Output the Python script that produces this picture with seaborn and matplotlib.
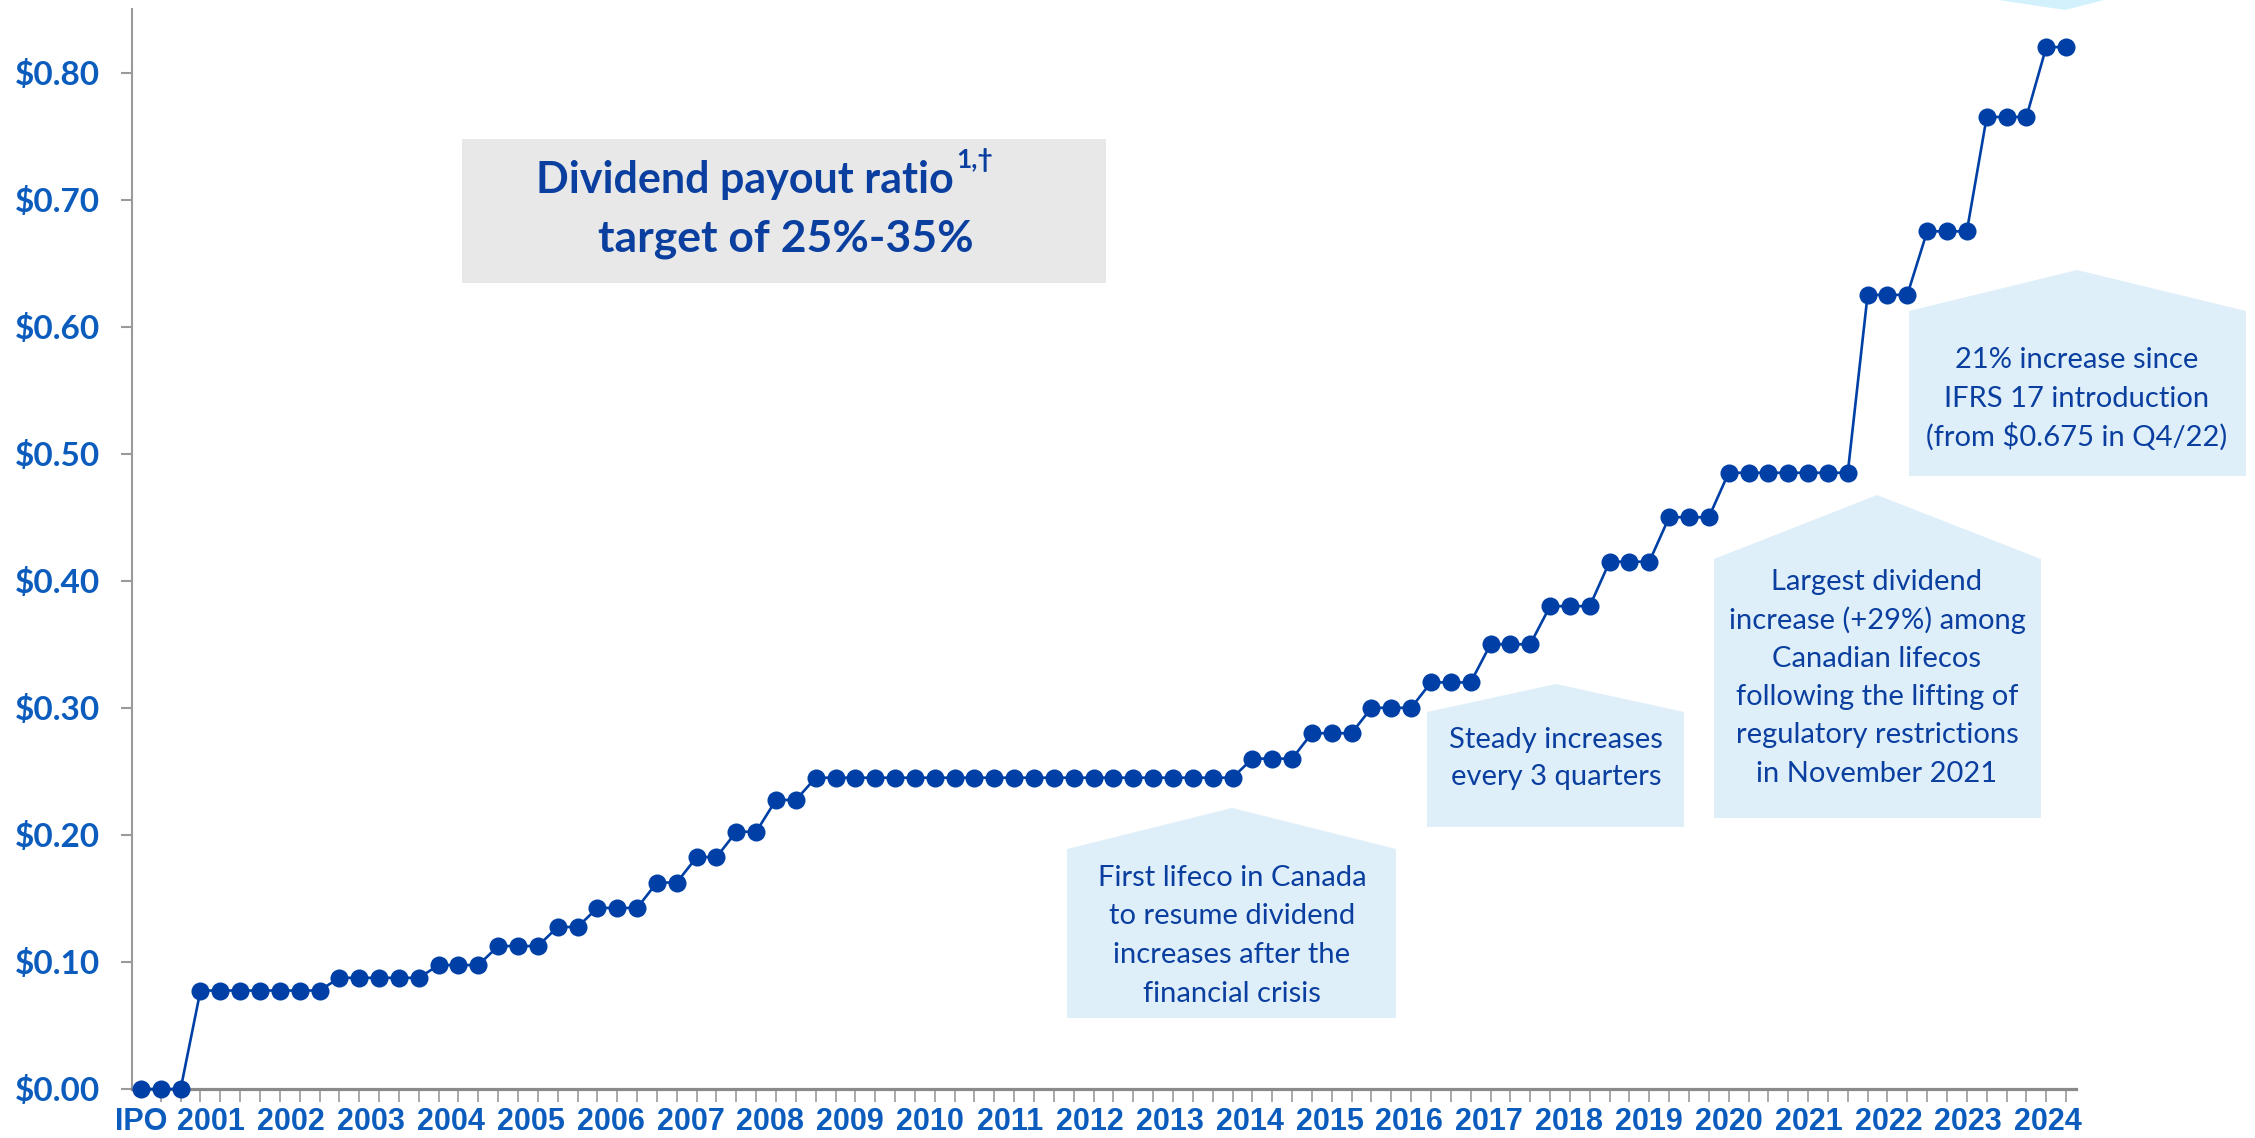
import matplotlib
matplotlib.use("Agg")
import matplotlib.pyplot as plt
import numpy as np
import pandas as pd
import seaborn as sns
from matplotlib import font_manager
from matplotlib.patches import Polygon, Rectangle

W, H = 2255, 1138

# quarterly dividend per common share, IPO to 2024
DIVIDEND = [
    0.0, 0.0, 0.0,
    0.0775, 0.0775, 0.0775, 0.0775, 0.0775, 0.0775, 0.0775,
    0.0875, 0.0875, 0.0875, 0.0875, 0.0875,
    0.0975, 0.0975, 0.0975,
    0.1125, 0.1125, 0.1125,
    0.1275, 0.1275,
    0.1425, 0.1425, 0.1425,
    0.1625, 0.1625,
    0.1825, 0.1825,
    0.2025, 0.2025,
    0.2275, 0.2275,
    0.245, 0.245, 0.245, 0.245, 0.245, 0.245, 0.245, 0.245, 0.245, 0.245, 0.245,
    0.245, 0.245, 0.245, 0.245, 0.245, 0.245, 0.245, 0.245, 0.245, 0.245, 0.245,
    0.26, 0.26, 0.26,
    0.28, 0.28, 0.28,
    0.30, 0.30, 0.30,
    0.32, 0.32, 0.32,
    0.35, 0.35, 0.35,
    0.38, 0.38, 0.38,
    0.415, 0.415, 0.415,
    0.45, 0.45, 0.45,
    0.485, 0.485, 0.485, 0.485, 0.485, 0.485, 0.485,
    0.625, 0.625, 0.625,
    0.675, 0.675, 0.675,
    0.765, 0.765, 0.765,
    0.82, 0.82,
]
YEAR_LABELS = ["IPO"] + [str(y) for y in range(2001, 2025)]
Y_TICKS = [0.0, 0.1, 0.2, 0.3, 0.4, 0.5, 0.6, 0.7, 0.8]
Y_TICK_LABELS = ["$0.00", "$0.10", "$0.20", "$0.30", "$0.40", "$0.50", "$0.60", "$0.70", "$0.80"]

BOX_LINE_1 = "Dividend payout ratio"
BOX_SUPER = "1,\u2020"
BOX_LINE_2 = "target of 25%-35%"
CALLOUT_CRISIS = ["First lifeco in Canada", "to resume dividend", "increases after the", "financial crisis"]
CALLOUT_STEADY = ["Steady increases", "every 3 quarters"]
CALLOUT_LARGEST = ["Largest dividend", "increase (+29%) among", "Canadian lifecos",
                   "following the lifting of", "regulatory restrictions", "in November 2021"]
CALLOUT_IFRS = ["21% increase since", "IFRS 17 introduction", "(from $0.675 in Q4/22)"]

DOT_BLUE = "#0040A6"
TICK_BLUE = "#0B5CBD"
TEXT_BLUE = "#0A3F9F"
CALLOUT_FILL = "#DFEFFA"
GRID_GREY = "#9a9a9a"

names = {f.name for f in font_manager.fontManager.ttflist}


def pick(*candidates):
    for c in candidates:
        if c in names:
            return c
    return "DejaVu Sans"


MAIN_FONT = pick("Lato", "Open Sans", "Noto Sans")
NARROW_FONT = pick("Liberation Sans Narrow", "DejaVu Sans Condensed", "Liberation Sans")

sns.set_theme(style="white")
plt.rcParams["font.family"] = [MAIN_FONT, "DejaVu Sans"]


def fx(x):
    return x / W


def fy(y):
    return 1 - y / H


def callout(fig, apex, shoulder_y, x0, x1, bottom, lines, first_y, step, fill=CALLOUT_FILL):
    pts = [(x0, bottom), (x0, shoulder_y), apex, (x1, shoulder_y), (x1, bottom)]
    fig.add_artist(Polygon([(fx(a), fy(b)) for a, b in pts], closed=True,
                           transform=fig.transFigure, facecolor=fill, edgecolor="none", zorder=-1))
    for i, line in enumerate(lines):
        fig.text(fx(apex[0]), fy(first_y + i * step), line, ha="center", va="center",
                 fontsize=21, color=TEXT_BLUE, zorder=2)


fig = plt.figure(figsize=(W / 100, H / 100), dpi=100)
fig.patch.set_facecolor("white")
ax = fig.add_axes([fx(132), fy(1089), (2076 - 132) / W, (1089 - 9) / H])
ax.patch.set_alpha(0)

df = pd.DataFrame({"quarter": np.arange(len(DIVIDEND)), "dividend": DIVIDEND})
sns.lineplot(data=df, x="quarter", y="dividend", ax=ax, color=DOT_BLUE, linewidth=1.9,
             marker="o", markersize=13, markeredgewidth=0, zorder=3, clip_on=False)

ax.set_xlim(-0.45, len(DIVIDEND) - 0.5)
ax.set_ylim(0, 0.85)
ax.set_xlabel("")
ax.set_ylabel("")

ax.set_yticks(Y_TICKS, Y_TICK_LABELS)
ax.tick_params(axis="y", left=True, length=8, width=1.5, color=GRID_GREY, pad=15,
               labelsize=24, labelcolor=TICK_BLUE)
for lab in ax.get_yticklabels():
    lab.set_fontweight("bold")

label_pos = np.concatenate([[0.0], np.linspace(3.55, 96.1, 24)])
ax.set_xticks(label_pos, YEAR_LABELS)
ax.set_xticks(np.arange(len(DIVIDEND)), minor=True)
ax.tick_params(axis="x", which="major", bottom=True, length=0, pad=13, labelsize=22,
               labelcolor=TICK_BLUE)
ax.tick_params(axis="x", which="minor", bottom=True, length=9, width=1.2, color=GRID_GREY,
               direction="out")
for lab in ax.get_xticklabels():
    lab.set_fontweight("bold")
    lab.set_fontfamily([NARROW_FONT, "DejaVu Sans"])

for side in ["top", "right"]:
    ax.spines[side].set_visible(False)
ax.spines["left"].set_color(GRID_GREY)
ax.spines["left"].set_linewidth(1.5)
ax.spines["bottom"].set_color("#8a8a8a")
ax.spines["bottom"].set_linewidth(2.3)

# payout ratio target box
fig.add_artist(Rectangle((fx(462), fy(283)), (1106 - 462) / W, (283 - 139) / H,
                         transform=fig.transFigure, facecolor="#E8E8E8", edgecolor="none", zorder=-1))
t1 = fig.text(fx(745), fy(180), BOX_LINE_1, ha="center", va="center", fontsize=31,
              fontweight="bold", color=TEXT_BLUE, zorder=2)
fig.canvas.draw()
bb = t1.get_window_extent()
fig.text((bb.x1 + 2) / W, (bb.y1 + 12) / H, BOX_SUPER, ha="left", va="top", fontsize=19,
         fontweight="bold", color=TEXT_BLUE, zorder=2, family=[MAIN_FONT, "DejaVu Sans"])
fig.text(fx(786), fy(239), BOX_LINE_2, ha="center", va="center", fontsize=32,
         fontweight="bold", color=TEXT_BLUE, zorder=2)

callout(fig, (1232, 808), 849, 1067, 1396, 1018, CALLOUT_CRISIS, 878, 38.5)
callout(fig, (1556, 684), 712, 1427, 1684, 827, CALLOUT_STEADY, 740, 37)
callout(fig, (1877, 495), 559, 1714, 2041, 818, CALLOUT_LARGEST, 582, 38.3)
callout(fig, (2077, 270), 311, 1909, 2246, 476, CALLOUT_IFRS, 360, 38.5)

# top callout, mostly outside the slide crop
fig.add_artist(Polygon([(fx(1975), fy(-30)), (fx(1985), fy(-2)), (fx(2065), fy(10)),
                        (fx(2112), fy(-2)), (fx(2120), fy(-30))], closed=True,
                       transform=fig.transFigure, facecolor="#D3F1FD", edgecolor="none", zorder=-1))

fig.savefig("out.png", dpi=100)
